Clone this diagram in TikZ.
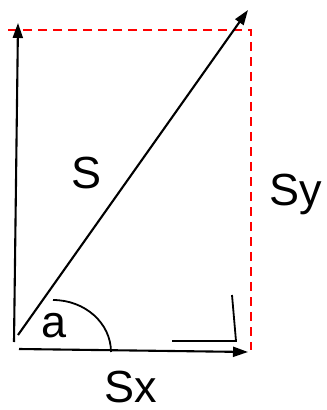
\documentclass[tikz,border=0pt]{standalone}
\usepackage{fontspec}
\setmainfont{Liberation Sans}
\usetikzlibrary{arrows.meta}
\begin{document}
\begin{tikzpicture}[x=1bp,y=-1bp,
  vec/.style={line width=2.1bp,-{Triangle[length=15bp,width=10bp]}},
  guide/.style={draw=red,line width=2.2bp,dash pattern=on 9bp off 6bp},
  thin/.style={line width=1.8bp},
  lbl/.style={font=\fontsize{45bp}{50bp}\selectfont,inner sep=0pt,anchor=base west}]
\useasboundingbox (0,0) rectangle (327,410);
\coordinate (vb) at (14,342);
\coordinate (vt) at (18,23);
\coordinate (db) at (18,335);
\coordinate (dt) at (248,10);
\coordinate (hb) at (19,349);
\coordinate (ht) at (248,352);
\coordinate (gl) at (8,30);
\coordinate (gc) at (251,30);
\coordinate (gb) at (251,350);
\coordinate (r1) at (172,341);
\coordinate (r2) at (236,341);
\coordinate (r3) at (232,295);
\draw[guide] (gl) -- (gc) -- (gb);
\draw[vec] (vb) -- (vt);
\draw[vec] (db) -- (dt);
\draw[vec] (hb) -- (ht);
\draw[thin] (r1) -- (r2) -- (r3);
\draw[thin] (53,300) arc[start angle=90,end angle=0,x radius=58,y radius=-52];
\node[lbl] (s) at (71,188) {S};
\node[lbl] (sy) at (269,205) {Sy};
\node[lbl] (a) at (41,337) {a};
\node[lbl] (sx) at (104,402) {Sx};
\end{tikzpicture}
\end{document}
